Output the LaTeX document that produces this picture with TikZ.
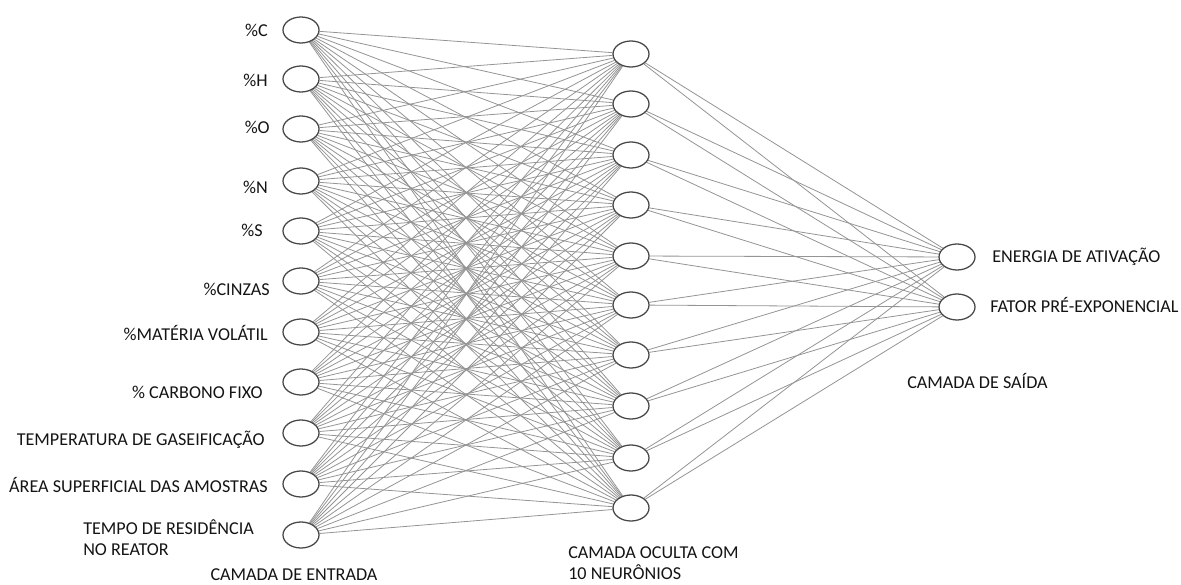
\documentclass[tikz,border=0pt]{standalone}
\usepackage{fontspec}
\setmainfont{Carlito}
\usetikzlibrary{shapes.geometric,backgrounds}
\begin{document}
\begin{tikzpicture}[x=0.75pt,y=-0.75pt,
  neuron/.style={ellipse,draw=black!72,line width=0.95pt,fill=white,
    minimum width=27pt,minimum height=19.5pt,inner sep=0pt},
  link/.style={draw=black!42,line width=0.6pt},
  lbl/.style={font=\fontsize{13.6}{16}\selectfont,inner sep=0pt,text=black!92}]
\useasboundingbox (0,0) rectangle (1181,585);

% input layer
\foreach \i/\y in {1/30,2/79,3/129,4/181,5/231,6/281,7/332,8/382,9/433,10/484,11/535}
  \node[neuron] (in\i) at (301,\y) {};
% hidden layer
\foreach \j/\y in {1/54,2/104,3/155,4/205,5/256,6/305,7/355,8/406,9/458,10/508}
  \node[neuron] (h\j) at (631,\y) {};
% output layer
\node[neuron] (o1) at (957,257) {};
\node[neuron] (o2) at (957,307) {};

% fully connected weights, kept behind the neurons
\begin{pgfonlayer}{background}
\foreach \i in {1,...,11}
  \foreach \j in {1,...,10}
    \draw[link] (in\i) -- (h\j);
\foreach \j in {1,...,10}
  \foreach \k in {1,2}
    \draw[link] (h\j) -- (o\k);
\end{pgfonlayer}

% input labels
\node[lbl,anchor=east] (lC) at (268,30) {\%C};
\node[lbl,anchor=east] (lH) at (268,80) {\%H};
\node[lbl,anchor=east] (lO) at (270,127) {\%O};
\node[lbl,anchor=east] (lN) at (268,187) {\%N};
\node[lbl,anchor=east] (lS) at (263,230) {\%S};
\node[lbl,anchor=east] (lCz) at (270,289) {\%CINZAS};
\node[lbl,anchor=east] (lMV) at (268,333) {\%MATÉRIA VOLÁTIL};
\node[lbl,anchor=east] (lCF) at (263,392) {\% CARBONO FIXO};
\node[lbl,anchor=east] (lT) at (265,440) {TEMPERATURA DE GASEIFICAÇÃO};
\node[lbl,anchor=east] (lA) at (268,485) {ÁREA SUPERFICIAL DAS AMOSTRAS};
\node[lbl,anchor=north west,align=left] (lR) at (83,519) {TEMPO DE RESIDÊNCIA\\NO REATOR};
\node[lbl] (lIn) at (294,575) {CAMADA DE ENTRADA};

% hidden label
\node[lbl,anchor=north west,align=left] (lHid) at (568,546) {CAMADA OCULTA COM\\10 NEURÔNIOS};

% output labels
\node[lbl,anchor=west] (lE) at (992,257) {ENERGIA DE ATIVAÇÃO};
\node[lbl,anchor=west] (lF) at (990,305) {FATOR PRÉ-EXPONENCIAL};
\node[lbl,anchor=west] (lOut) at (907,381) {CAMADA DE SAÍDA};
\end{tikzpicture}
\end{document}
